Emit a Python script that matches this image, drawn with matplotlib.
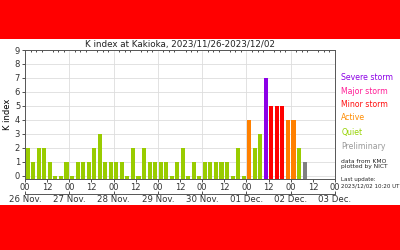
import numpy as np
import matplotlib
matplotlib.use("Agg")
import matplotlib.pyplot as plt
from matplotlib.patches import Rectangle

# 3-hourly K index values, 2023/11/26 00UT onwards
k_values = [2, 1, 2, 2, 1, 0, 0, 1,
            0, 1, 1, 1, 2, 3, 1, 1,
            1, 1, 0, 2, 0, 2, 1, 1,
            1, 1, 0, 1, 2, 0, 1, 0,
            1, 1, 1, 1, 1, 0, 2, 0,
            4, 2, 3, 7, 5, 5, 5, 4,
            4, 2, 1]
preliminary = [False] * 50 + [True]
day_labels = ["26 Nov.", "27 Nov.", "28 Nov.", "29 Nov.", "30 Nov.",
              "01 Dec.", "02 Dec.", "03 Dec."]
legend_names = ["Severe storm", "Major storm", "Minor storm", "Active", "Quiet", "Preliminary"]
legend_colors = ["#8c00e6", "#ff1e96", "#ff1010", "#ff8c00", "#96d200", "#999999"]


def kcolor(k, prelim):
    if prelim:
        return "#808080"
    if k >= 7:
        return "#8c00e6"
    if k == 6:
        return "#ff1e96"
    if k == 5:
        return "#ff0000"
    if k == 4:
        return "#ff8000"
    return "#99cc00"


fig = plt.figure(figsize=(4, 2.5), dpi=100, facecolor="#ff0000")
fig.patches.append(Rectangle((0, 0.18), 1, 0.664, transform=fig.transFigure,
                             facecolor="white", edgecolor="none", zorder=-5))

ax = fig.add_axes([0.0625, 0.286, 0.775, 0.514])
base = -0.2
x = np.arange(len(k_values)) * 3 + 1.5
heights = np.array(k_values) - base
colors = [kcolor(k, p) for k, p in zip(k_values, preliminary)]
ax.bar(x, heights, bottom=base, width=2.2, color=colors, zorder=3)

ax.set_xlim(0, 168)
ax.set_ylim(base, 9)
ax.set_yticks(range(10))
ax.set_xticks(np.arange(0, 169, 12))
ax.set_xticklabels(["00", "12"] * 7 + ["00"])
ax.set_xticks(np.arange(0, 169, 3), minor=True)
ax.tick_params(axis="both", labelsize=6, length=2.5, width=0.6, pad=1, colors="#333333")
ax.tick_params(axis="x", which="minor", bottom=False, top=True, direction="in", length=1.5, width=0.5)
ax.grid(axis="y", color="#dddddd", lw=0.6, zorder=0)
for d in range(24, 168, 24):
    ax.axvline(d, color="#dddddd", lw=0.6, zorder=0)
for s in ax.spines.values():
    s.set_color("#555555")
    s.set_linewidth(0.7)
ax.set_ylabel("K index", fontsize=6, labelpad=2)
ax.set_title("K index at Kakioka, 2023/11/26-2023/12/02", fontsize=6.3, pad=2, color="#222222")

sec = ax.secondary_xaxis(-0.12)
sec.set_xticks(np.arange(0, 169, 24))
sec.set_xticklabels(day_labels)
sec.tick_params(labelsize=6.2, length=2, width=0.6, pad=1, direction="in", colors="#333333")
sec.spines["bottom"].set_color("#555555")
sec.spines["bottom"].set_linewidth(0.7)

ys = [0.692, 0.636, 0.582, 0.528, 0.472, 0.414]
for name, c, y in zip(legend_names, legend_colors, ys):
    fig.text(0.853, y, name, color=c, fontsize=5.6, va="center")
fig.text(0.853, 0.344, "data from KMO\nplotted by NICT", fontsize=4.3, va="center",
         linespacing=1.1, color="#222222")
fig.text(0.853, 0.268, "Last update:\n2023/12/02 10:20 UT", fontsize=4.0, va="center",
         linespacing=1.25, color="#222222")

fig.savefig("out.png", dpi=100, facecolor=fig.get_facecolor())
